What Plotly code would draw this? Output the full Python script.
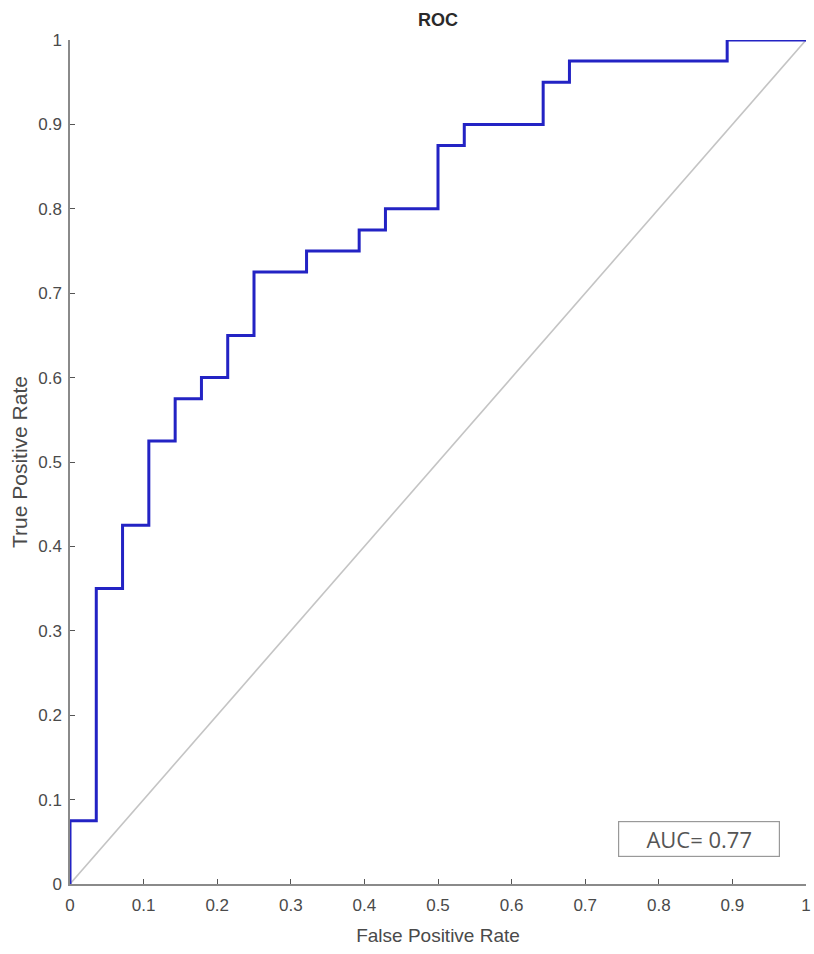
import plotly.graph_objects as go

# ROC curve step points (FPR, TPR)
fpr = [0.0, 0.0, 0.0357, 0.0714, 0.1071, 0.1429, 0.1786, 0.2143, 0.25,
       0.3214, 0.3929, 0.4286, 0.5, 0.5357, 0.6429, 0.6786, 0.8929, 1.0]
tpr = [0.0, 0.075, 0.35, 0.425, 0.525, 0.575, 0.6, 0.65, 0.725,
       0.75, 0.775, 0.8, 0.875, 0.9, 0.95, 0.975, 1.0, 1.0]

diag_x = [0, 1]
diag_y = [0, 1]

tick_vals = [0, 0.1, 0.2, 0.3, 0.4, 0.5, 0.6, 0.7, 0.8, 0.9, 1]
tick_text = ["0", "0.1", "0.2", "0.3", "0.4", "0.5", "0.6", "0.7", "0.8", "0.9", "1"]

auc_text = "AUC= 0.77"

FONT = "Liberation Sans, Arial, sans-serif"

fig = go.Figure()
fig.add_trace(go.Scatter(x=diag_x, y=diag_y, mode="lines",
                         line=dict(color="#c4c4c4", width=1.6),
                         showlegend=False, hoverinfo="skip"))
fig.add_trace(go.Scatter(x=fpr, y=tpr, mode="lines", line_shape="hv",
                         line=dict(color="#2323c4", width=3),
                         showlegend=False, cliponaxis=False))

axis_common = dict(range=[0, 1], tickvals=tick_vals, ticktext=tick_text,
                   showgrid=False, zeroline=False, showline=True,
                   linecolor="#8a8a8a", linewidth=1.5, automargin=False,
                   ticks="inside", ticklen=5, tickcolor="#555555", tickwidth=1.2,
                   tickfont=dict(family=FONT, size=17, color="#4a4a4a"))

fig.update_layout(
    width=814, height=954,
    paper_bgcolor="white", plot_bgcolor="white",
    margin=dict(l=70, r=8, t=40, b=70),
    title=dict(text="<b>ROC</b>", x=438 / 814, xanchor="center",
               y=1 - 20 / 954, yanchor="middle",
               font=dict(family=FONT, size=18, color="#2a2a2a")),
    xaxis=dict(**axis_common, ticklabelstandoff=5,
               title=dict(text="False Positive Rate", standoff=15,
                          font=dict(family=FONT, size=19, color="#4a4a4a"))),
    yaxis=dict(**axis_common, ticklabelstandoff=3,
               title=dict(text="True Positive Rate", standoff=5,
                          font=dict(family=FONT, size=21, color="#4a4a4a"))),
    annotations=[dict(x=0.855, y=0.053, xref="x", yref="y", text=auc_text,
                      showarrow=False, xanchor="center", yanchor="middle",
                      font=dict(family="Open Sans, Liberation Sans", size=22, color="#555555"),
                      bordercolor="#999999", borderwidth=1.2, borderpad=2,
                      bgcolor="white", width=156)],
)

fig.write_html("out.html", config={"displayModeBar": False},
               post_script="document.body.style.margin='0';document.body.style.overflow='hidden';")
